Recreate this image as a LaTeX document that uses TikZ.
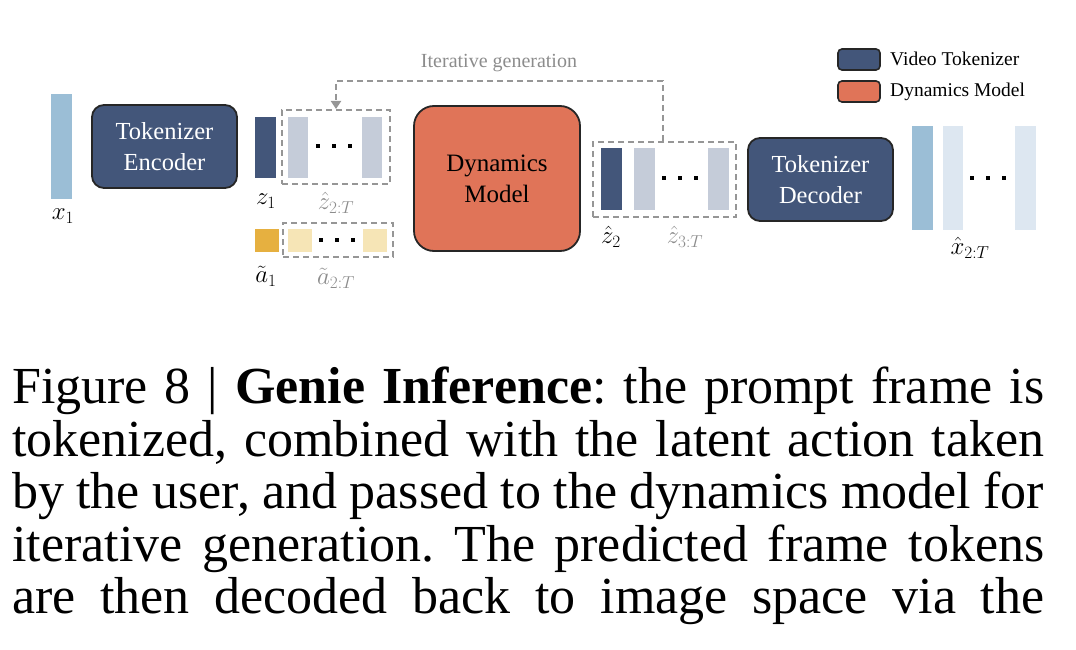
\documentclass[tikz,border=0pt]{standalone}
\usepackage{fontspec}
\setmainfont{Liberation Serif}
\usetikzlibrary{arrows.meta}
\frenchspacing
\definecolor{tokblue}{RGB}{67,86,122}
\definecolor{xblue}{RGB}{155,190,214}
\definecolor{paleblue}{RGB}{221,231,241}
\definecolor{zgray}{RGB}{197,204,217}
\definecolor{gold}{RGB}{230,176,64}
\definecolor{paleyellow}{RGB}{246,229,182}
\definecolor{dynorange}{RGB}{224,116,88}
\definecolor{dashgray}{RGB}{150,150,150}
\definecolor{labgray}{RGB}{140,140,140}
\tikzset{
  bar/.style={draw=none, inner sep=0pt, outer sep=0pt},
  bigbox/.style={draw=black!85, line width=1.8pt, rounded corners=12pt, inner sep=0pt, align=center,
     font=\fontsize{24.5}{31}\selectfont},
  dbox/.style={draw=dashgray, line width=2pt, dash pattern=on 6pt off 4pt, inner sep=0pt, fill=none},
  dotsq/.style={fill=black, inner sep=0pt, minimum size=4pt, draw=none},
  lab/.style={font=\fontsize{24.5}{28}\selectfont, inner sep=0pt},
  glab/.style={lab, text=labgray},
  leg/.style={draw=black!85, line width=1.6pt, rounded corners=4pt, minimum width=42pt, minimum height=21pt, inner sep=0pt},
  legtext/.style={anchor=west, inner sep=0pt, font=\fontsize{19.5}{24}\selectfont},
  capline/.style={anchor=base west, inner sep=0pt, font=\fontsize{52}{52}\selectfont}
}
\begin{document}
\begin{tikzpicture}[x=1pt,y=-1pt]
\useasboundingbox (0,0) rectangle (1076,650);
% input frame
\node[bar, fill=xblue, minimum width=21pt, minimum height=104pt] (x1) at (61.5,146.5) {};
\node[lab] (x1l) at (63,216) {$x_1$};
% encoder
\node[bigbox, fill=tokblue, text=white, minimum width=145pt, minimum height=83pt] (enc) at (164.5,146.5) {Tokenizer\\Encoder};
% z tokens
\node[bar, fill=tokblue, minimum width=21pt, minimum height=61pt] (z1) at (265.5,147.5) {};
\node[dbox, minimum width=108pt, minimum height=74pt] (zb) at (336,147) {};
\node[bar, fill=zgray, minimum width=20pt, minimum height=61pt] (z2) at (298,147.5) {};
\node[bar, fill=zgray, minimum width=20pt, minimum height=61pt] (zT) at (372,147.5) {};
\node[dotsq] (zd1) at (318,146) {};
\node[dotsq] (zd2) at (334,146) {};
\node[dotsq] (zd3) at (350,146) {};
\node[lab] (z1l) at (266,201) {$z_1$};
\node[glab] (zbl) at (336,203) {$\hat{z}_{2:T}$};
% actions
\node[bar, fill=gold, minimum width=24pt, minimum height=23pt] (a1) at (267,240.5) {};
\node[dbox, minimum width=110pt, minimum height=34pt] (ab) at (338,240) {};
\node[bar, fill=paleyellow, minimum width=24pt, minimum height=23pt] (a2) at (300,240.5) {};
\node[bar, fill=paleyellow, minimum width=24pt, minimum height=23pt] (aT) at (375,240.5) {};
\node[dotsq] (ad1) at (321,240) {};
\node[dotsq] (ad2) at (337,240) {};
\node[dotsq] (ad3) at (353,240) {};
\node[lab] (a1l) at (266,276) {$\tilde{a}_1$};
\node[glab] (abl) at (336,278) {$\tilde{a}_{2:T}$};
% dynamics model
\node[bigbox, rounded corners=20pt, fill=dynorange, text=black, minimum width=166pt, minimum height=145pt,
  font=\fontsize{25}{31}\selectfont] (dyn) at (497,178.5) {Dynamics\\Model};
% predicted tokens
\node[dbox, minimum width=143pt, minimum height=75pt] (zh) at (664.5,179.5) {};
\node[bar, fill=tokblue, minimum width=21pt, minimum height=62pt] (zh2) at (611.5,179) {};
\node[bar, fill=zgray, minimum width=21pt, minimum height=62pt] (zh3) at (644.5,179) {};
\node[bar, fill=zgray, minimum width=21pt, minimum height=62pt] (zhT) at (718.5,179) {};
\node[dotsq] (hd1) at (664,178) {};
\node[dotsq] (hd2) at (680,178) {};
\node[dotsq] (hd3) at (696,178) {};
\node[lab] (zh2l) at (611,237) {$\hat{z}_2$};
\node[glab] (zhl) at (685,237) {$\hat{z}_{3:T}$};
% decoder
\node[bigbox, fill=tokblue, text=white, minimum width=145pt, minimum height=83pt] (dec) at (820.5,179.5) {Tokenizer\\Decoder};
% output frames
\node[bar, fill=xblue, minimum width=21pt, minimum height=104pt] (o1) at (922.5,178) {};
\node[bar, fill=paleblue, minimum width=20pt, minimum height=104pt] (o2) at (953,178) {};
\node[bar, fill=paleblue, minimum width=21pt, minimum height=104pt] (oT) at (1025.5,178) {};
\node[dotsq] (od1) at (972,178) {};
\node[dotsq] (od2) at (988,178) {};
\node[dotsq] (od3) at (1004,178) {};
\node[lab] (ol) at (970,248) {$\hat{x}_{2:T}$};
% iterative generation loop
\coordinate (turnR) at (663,81);
\coordinate (turnL) at (zb.north |- turnR);
\draw[draw=dashgray, line width=2pt, dash pattern=on 6pt off 4pt,
  -{Triangle[width=10pt,length=8pt,fill=dashgray]}]
  (zh.north -| turnR) -- (turnR) -- (turnL) -- (zb.north);
\node[font=\fontsize{20}{24}\selectfont, text=labgray, inner sep=0pt] (itl) at (499,63) {Iterative generation};
% legend
\node[leg, fill=tokblue] (legA) at (859,59.5) {};
\node[legtext] (legAt) at (890,59) {Video Tokenizer};
\node[leg, fill=dynorange] (legB) at (859,91.5) {};
\node[legtext] (legBt) at (890,92) {Dynamics Model};
% caption
\node[capline] (c1) at (12,403) {\makebox[1032pt][s]{Figure 8 | \textbf{Genie Inference}: the prompt frame is}};
\node[capline] (c2) at (12,456) {\makebox[1032pt][s]{tokenized, combined with the latent action taken}};
\node[capline] (c3) at (12,508) {\makebox[1032pt][s]{by the user, and passed to the dynamics model for}};
\node[capline] (c4) at (12,561) {\makebox[1032pt][s]{iterative generation. The predicted frame tokens}};
\node[capline] (c5) at (12,613) {\makebox[1032pt][s]{are then decoded back to image space via the}};
\end{tikzpicture}
\end{document}
